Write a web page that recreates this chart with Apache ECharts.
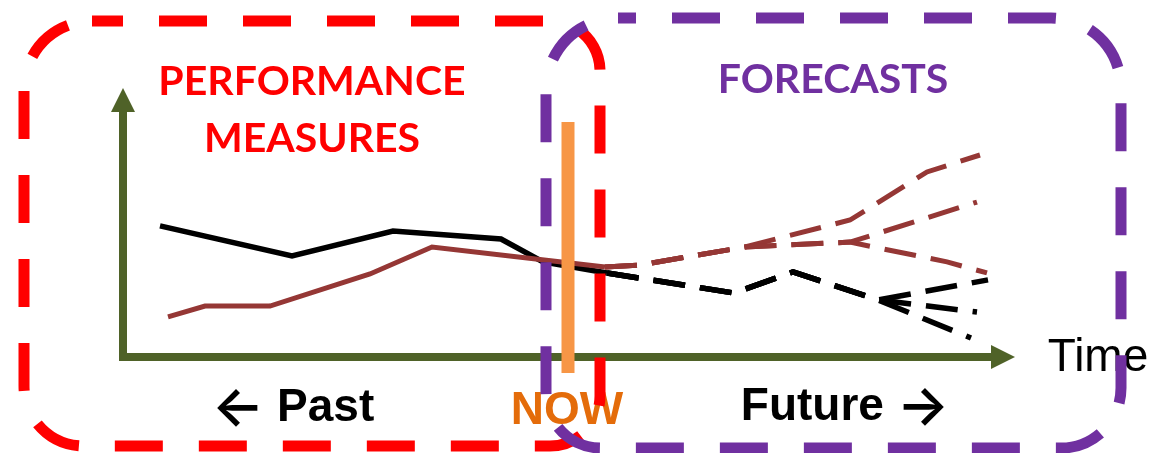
<!DOCTYPE html>
<html>
<head>
<meta charset="utf-8">
<script src="https://cdn.jsdelivr.net/npm/echarts@6/dist/echarts.min.js"></script>
<style>
  html, body { margin: 0; padding: 0; background: #ffffff; }
  #chart { width: 1154px; height: 453px; }
</style>
</head>
<body>
<div id="chart"></div>
<script>
// Time runs 0..88 along x, measure value 0..100 along y.
const nowTime = 44.5;
const nowBarRange = [-6.2, 91.4];

// Measure A (black): observed history and forecast scenarios
const measureAHistory = [[3.7, 51.0], [16.9, 39.3], [27.0, 49.0], [37.8, 45.9], [42.0, 37.0], [48.4, 32.7]];
const measureAForecastShared = [[48.4, 32.7], [61.1, 24.9], [67.0, 33.1], [75.5, 22.2]];
const measureAForecastEnds = [[86.5, 30.0], [85.4, 17.5], [84.8, 7.4]];

// Measure B (brown): observed history and forecast scenarios
const measureBHistory = [[4.5, 15.6], [8.2, 19.8], [14.7, 19.8], [24.7, 32.3], [30.9, 42.8], [48.2, 35.0]];
const measureBForecastShared = [[48.2, 35.0], [51.7, 35.8], [62.2, 42.8]];
const measureBForecastUpper = [[72.7, 53.3], [80.4, 72.0], [85.7, 78.6]];
const measureBForecastMiddle = [[72.7, 44.7], [85.4, 60.3]];
const measureBForecastLower = [[72.7, 44.7], [82.4, 37.0], [86.4, 32.7]];

const AXIS_GREEN = '#4F6228';
const BLACK = '#000000';
const BROWN = '#953735';
const RED = '#FF0000';
const PURPLE = '#7030A0';
const NOW_BAR = '#F79646';
const NOW_TEXT = '#E46C0A';

function solidLine(data, color, width) {
  return {
    type: 'line', data: data, showSymbol: false, symbol: 'none', z: 3,
    lineStyle: { color: color, width: width, join: 'miter', cap: 'butt' },
    silent: true, animation: false
  };
}
function dashedLine(data, color, width) {
  return {
    type: 'line', data: data, showSymbol: false, symbol: 'none', z: 3,
    lineStyle: { color: color, width: width, type: [32, 15], join: 'miter', cap: 'butt' },
    silent: true, animation: false
  };
}

const series = [
  solidLine(measureAHistory, BLACK, 5.5),
  solidLine(measureBHistory, BROWN, 5),
  dashedLine(measureBForecastShared.concat(measureBForecastUpper), BROWN, 5),
  dashedLine(measureBForecastShared.concat(measureBForecastMiddle), BROWN, 5),
  dashedLine(measureBForecastShared.concat(measureBForecastLower), BROWN, 5)
];
measureAForecastEnds.forEach(function (end) {
  series.push(dashedLine(measureAForecastShared.concat([end]), BLACK, 5.5));
});

// The "now" marker bar, drawn through the axes' coordinate system
series.push({
  type: 'custom', z: 10, clip: false, silent: true, animation: false,
  data: [[nowTime, nowBarRange[0], nowBarRange[1]]],
  renderItem: function (params, api) {
    const bottom = api.coord([api.value(0), api.value(1)]);
    const top = api.coord([api.value(0), api.value(2)]);
    const w = 13;
    return {
      type: 'rect',
      shape: { x: top[0] - w / 2, y: top[1], width: w, height: bottom[1] - top[1] },
      style: { fill: NOW_BAR }
    };
  }
});

const headFont = 'Lato, "Open Sans", sans-serif';
const bodyFont = '"Liberation Sans", Arial, sans-serif';
const arrowFont = 'Inter, "DejaVu Sans", sans-serif';

function label(text, x, y, color, size, weight, family) {
  return {
    type: 'text', z: 50, silent: true,
    style: {
      text: text, x: x, y: y, align: 'center', verticalAlign: 'middle',
      fill: color, fontSize: size, fontWeight: weight, fontFamily: family
    }
  };
}

// Bold caption with a direction arrow glyph taken from a font with a full-size arrow head
function arrowLabel(text, x, y) {
  return {
    type: 'text', z: 50, silent: true,
    style: {
      text: text, x: x, y: y, align: 'center', verticalAlign: 'middle',
      fill: BLACK, fontSize: 46, fontWeight: 'bold', fontFamily: bodyFont,
      rich: {
        arr: { fontFamily: arrowFont, fontSize: 55, fontWeight: 600, fill: BLACK, lineHeight: 56 },
        w: { fontFamily: bodyFont, fontSize: 46, fontWeight: 'bold', fill: BLACK, lineHeight: 56 }
      }
    }
  };
}

const chart = echarts.init(document.getElementById('chart'), null, { renderer: 'canvas' });
chart.setOption({
  animation: false,
  backgroundColor: '#ffffff',
  grid: { left: 123, right: 151, top: 100, bottom: 96, outerBoundsMode: 'none', containLabel: false },
  xAxis: {
    type: 'value', min: 0, max: 88,
    axisLine: {
      show: true, onZero: false,
      symbol: ['none', 'triangle'], symbolSize: [24, 24],
      lineStyle: { color: AXIS_GREEN, width: 8, cap: 'square' }
    },
    axisTick: { show: false }, axisLabel: { show: false }, splitLine: { show: false }
  },
  yAxis: {
    type: 'value', min: 0, max: 100,
    axisLine: {
      show: true, onZero: false,
      symbol: ['none', 'triangle'], symbolSize: [24, 24],
      lineStyle: { color: AXIS_GREEN, width: 8, cap: 'square' }
    },
    axisTick: { show: false }, axisLabel: { show: false }, splitLine: { show: false }
  },
  series: series,
  graphic: [
    label('PERFORMANCE', 312, 82, RED, 41, 'bold', headFont),
    label('MEASURES', 312, 139, RED, 41, 'bold', headFont),
    label('FORECASTS', 833, 80, PURPLE, 41, 'bold', headFont),
    arrowLabel('{arr|\u2190}{w| Past}', 293, 408),
    label('NOW', 567, 411, NOW_TEXT, 46, 'bold', bodyFont),
    arrowLabel('{w|Future }{arr|\u2192}', 845, 407),
    label('Time', 1098, 358, BLACK, 46, 'normal', bodyFont),
    {
      type: 'rect', z: 100, silent: true,
      shape: { x: 24, y: 21, width: 576, height: 425, r: [68, 50, 50, 60] },
      style: { fill: 'none', stroke: RED, lineWidth: 11, lineDash: [48, 36], lineDashOffset: 17 }
    },
    {
      type: 'rect', z: 101, silent: true,
      shape: { x: 546, y: 18, width: 575, height: 430, r: [72, 70, 60, 55] },
      style: { fill: 'none', stroke: PURPLE, lineWidth: 11, lineDash: [48, 36], lineDashOffset: 30 }
    }
  ]
});
</script>
</body>
</html>
